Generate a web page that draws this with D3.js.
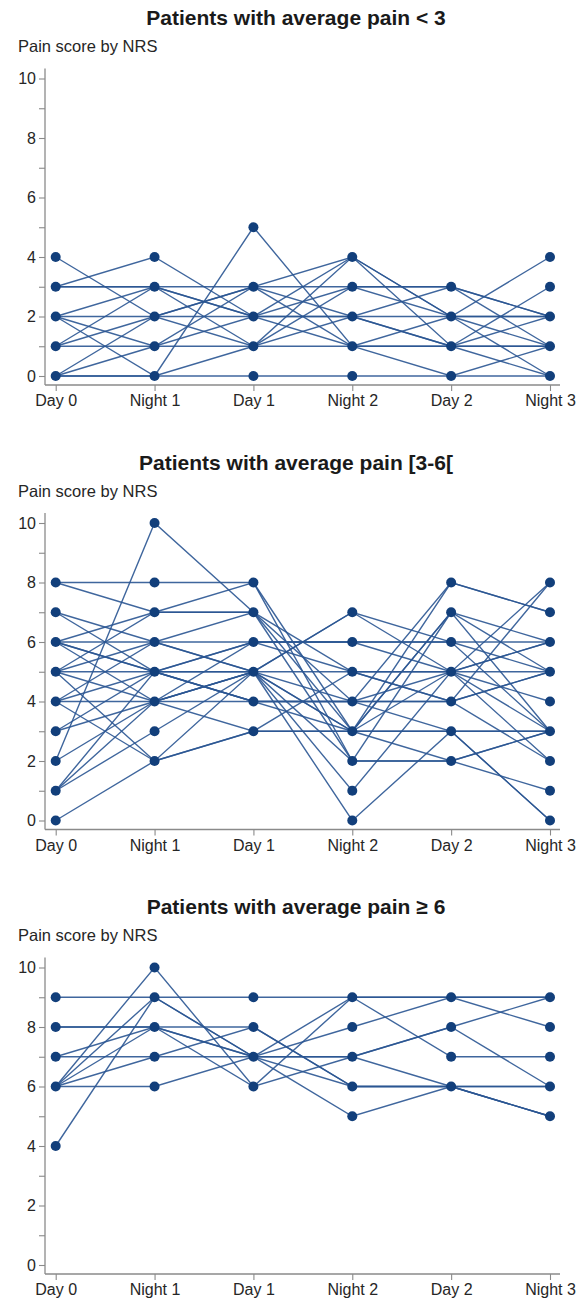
<!DOCTYPE html>
<html>
<head>
<meta charset="utf-8">
<script src="https://cdn.jsdelivr.net/npm/d3@7"></script>
<style>
  html, body { margin: 0; padding: 0; background: #fff; }
  svg { display: block; font-family: "Liberation Sans", Arial, Helvetica, sans-serif; }
</style>
</head>
<body>
<svg id="chart" width="579" height="1314"></svg>
<script>
// Time points of the NRS assessments
const timepoints = ["Day 0", "Night 1", "Day 1", "Night 2", "Day 2", "Night 3"];
const yMajorTicks = [0, 2, 4, 6, 8, 10];
const yMinorTicks = [1, 3, 5, 7, 9];
const yLabel = "Pain score by NRS";
const groupTitles = [
  "Patients with average pain < 3",
  "Patients with average pain [3-6[",
  "Patients with average pain \u2265 6"
];

// Individual patient trajectories, one row per patient (scores at each time point)
const painLow = [
  [0, 0, 0, 0, 0, 0],
  [3, 3, 3, 3, 3, 2],
  [2, 2, 2, 2, 2, 2],
  [1, 1, 1, 1, 1, 1],
  [4, 2, 3, 4, 1, 3],
  [3, 4, 2, 4, 2, 0],
  [2, 0, 5, 1, 0, 1],
  [2, 3, 1, 4, 2, 1],
  [2, 1, 2, 1, 2, 2],
  [1, 3, 2, 3, 3, 1],
  [1, 2, 3, 1, 1, 2],
  [0, 2, 1, 3, 2, 4],
  [0, 1, 3, 2, 3, 2],
  [0, 0, 1, 2, 1, 0],
  [3, 3, 2, 2, 1, 1]
];

const painMid = [
  [8, 8, 8, 2, 7, 5],
  [7, 6, 5, 7, 5, 8],
  [6, 7, 8, 3, 8, 7],
  [6, 6, 6, 6, 6, 5],
  [6, 5, 4, 4, 5, 3],
  [6, 4, 5, 0, 3, 0],
  [5, 7, 7, 5, 5, 5],
  [5, 5, 5, 5, 5, 6],
  [5, 4, 6, 6, 6, 6],
  [5, 2, 3, 3, 3, 3],
  [4, 5, 4, 4, 4, 2],
  [4, 4, 4, 4, 4, 5],
  [4, 2, 5, 3, 3, 3],
  [3, 5, 6, 5, 4, 5],
  [3, 4, 5, 2, 2, 1],
  [2, 10, 7, 3, 7, 3],
  [1, 5, 6, 6, 5, 4],
  [1, 4, 5, 3, 5, 2],
  [1, 3, 5, 1, 5, 6],
  [0, 2, 3, 3, 7, 6],
  [7, 5, 4, 3, 2, 3],
  [5, 6, 7, 2, 2, 3],
  [6, 5, 5, 7, 6, 3],
  [4, 6, 5, 4, 8, 7],
  [8, 7, 7, 4, 3, 0],
  [2, 4, 3, 5, 4, 8]
];

const painHigh = [
  [9, 9, 9, 9, 9, 9],
  [8, 8, 8, 6, 6, 6],
  [7, 8, 7, 8, 9, 8],
  [7, 7, 7, 7, 6, 5],
  [6, 10, 6, 9, 7, 7],
  [6, 9, 7, 7, 8, 9],
  [6, 8, 6, 7, 8, 6],
  [6, 7, 8, 6, 6, 5],
  [6, 6, 7, 5, 6, 6],
  [4, 9, 7, 9, 9, 9],
  [8, 8, 7, 6, 6, 5]
];

const groups = [painLow, painMid, painHigh];

const svg = d3.select("#chart");
const lineColor = "#2a5592";
const dotColor = "#123f7b";
const axisColor = "#8a8a8a";
const textColor = "#262626";

const panelStep = 444.5;
const zeroY = 376;
const plotH = 297.5;

const x = d3.scalePoint().domain(timepoints).range([55.7, 550]);

groups.forEach((patients, gi) => {
  const g = svg.append("g").attr("transform", `translate(0,${gi * panelStep})`);
  const y = d3.scaleLinear().domain([0, 10]).range([zeroY, zeroY - plotH]);

  // Title
  g.append("text")
    .attr("x", 296).attr("y", 25)
    .attr("text-anchor", "middle")
    .attr("font-size", 21).attr("font-weight", "bold")
    .attr("fill", "#1a1a1a")
    .text(groupTitles[gi]);

  // Y-axis label
  g.append("text")
    .attr("x", 18).attr("y", 52)
    .attr("font-size", 16.5)
    .attr("fill", textColor)
    .text(yLabel);

  // Y axis: major ticks with labels
  const yAxis = g.append("g").attr("transform", "translate(45,0)")
    .call(d3.axisLeft(y).tickValues(yMajorTicks).tickSize(6).tickPadding(3).tickSizeOuter(0));
  // minor ticks
  g.append("g").attr("transform", "translate(45,0)")
    .call(d3.axisLeft(y).tickValues(yMinorTicks).tickSize(6).tickFormat("").tickSizeOuter(0))
    .select(".domain").remove();
  yAxis.select(".domain").attr("d", `M0,${zeroY + 9}V${y(10) - 10}`);

  // X axis
  const xAxisY = zeroY + 9;
  const xAxis = g.append("g").attr("transform", `translate(0,${xAxisY})`)
    .call(d3.axisBottom(x).tickSize(6).tickPadding(4).tickSizeOuter(0));
  xAxis.select(".domain").attr("d", "M45,0H560");

  g.selectAll(".domain").attr("stroke", axisColor).attr("stroke-width", 1.3);
  g.selectAll(".tick line").attr("stroke", axisColor).attr("stroke-width", 1.1);
  g.selectAll(".tick text").attr("fill", textColor)
    .attr("font-family", "'Liberation Sans', Arial, sans-serif");
  yAxis.selectAll(".tick text").attr("font-size", 16);
  xAxis.selectAll(".tick text").attr("font-size", 16);

  // Patient trajectories
  const line = d3.line()
    .x((d, i) => x(timepoints[i]))
    .y(d => y(d));

  g.append("g").selectAll("path")
    .data(patients)
    .join("path")
    .attr("d", line)
    .attr("fill", "none")
    .attr("stroke", lineColor)
    .attr("stroke-width", 1.4)
    .attr("stroke-opacity", 0.9);

  // Observed scores as dots (unique time/score pairs)
  const seen = new Set();
  const dots = [];
  patients.forEach(p => p.forEach((v, i) => {
    const key = i + ":" + v;
    if (!seen.has(key)) { seen.add(key); dots.push({ t: timepoints[i], v }); }
  }));
  g.append("g").selectAll("circle")
    .data(dots)
    .join("circle")
    .attr("cx", d => x(d.t))
    .attr("cy", d => y(d.v))
    .attr("r", 5)
    .attr("fill", dotColor);
});
</script>
</body>
</html>
